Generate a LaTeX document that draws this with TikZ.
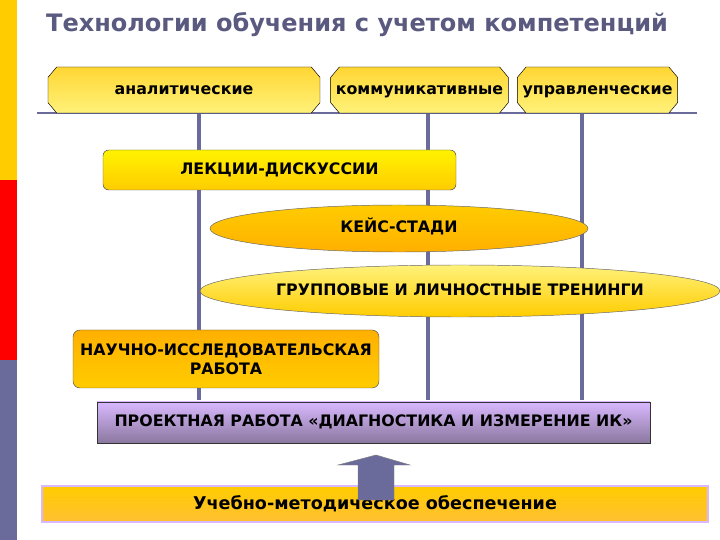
\documentclass[tikz,border=0pt]{standalone}
\usepackage{fontspec}
\setmainfont{DejaVu Sans}
\usetikzlibrary{shapes.geometric,shapes.misc,shadings}
\definecolor{slate}{HTML}{6B6B9B}
\definecolor{ttl}{HTML}{5A5A80}
\definecolor{gold}{HTML}{FFCC00}
\definecolor{lyel}{HTML}{FFF27A}
\definecolor{lav}{HTML}{D9B8FF}
\definecolor{lavd}{HTML}{8A789E}
\definecolor{orng}{HTML}{FFB000}
\begin{document}
\begin{tikzpicture}[x=0.03cm,y=-0.03cm,
  lbl/.style={font=\bfseries\fontsize{13.5}{16}\selectfont, text=black, text height=1.6ex, text depth=.3ex},
  hexbox/.style={chamfered rectangle, chamfered rectangle xsep=2cm, chamfered rectangle angle=40, draw=black, thin, top color=gold!80, bottom color=lyel, inner sep=0pt},
  vline/.style={slate, line width=3.5pt}]
\useasboundingbox (0,0) rectangle (720,540);
\fill[gold] (0,0) rectangle (17,180);
\fill[red] (0,180) rectangle (17,360);
\fill[slate] (0,360) rectangle (17,540);
\node[anchor=west, text=ttl, font=\bfseries\fontsize{20.5}{24}\selectfont] (title) at (42,25) {Технологии обучения с учетом компетенций};
\coordinate (hl) at (37,113); \coordinate (hr) at (697,113);
\draw[slate, line width=2pt] (hl) -- (hr);
\coordinate (v1a) at (199,113); \coordinate (v1b) at (199,400);
\coordinate (v2a) at (428,113); \coordinate (v2b) at (428,400);
\coordinate (v3a) at (582,113); \coordinate (v3b) at (582,400);
\draw[vline] (v1a) -- (v1b); \draw[vline] (v2a) -- (v2b); \draw[vline] (v3a) -- (v3b);
\node[hexbox, minimum width=272*0.03cm, minimum height=46*0.03cm, lbl] (a) at (184,90) {аналитические};
\node[hexbox, minimum width=175*0.03cm, minimum height=46*0.03cm, lbl] (k) at (419.5,90) {коммуникативные};
\node[hexbox, minimum width=159*0.03cm, minimum height=46*0.03cm, lbl] (u) at (597.5,90) {управленческие};
\node[draw=black!70, rounded corners=5pt, top color=yellow!90!orange, bottom color=gold, minimum width=353*0.03cm, minimum height=40*0.03cm, lbl] (lek) at (279.5,170) {ЛЕКЦИИ-ДИСКУССИИ};
\node[ellipse, draw=black!60, top color=gold, bottom color=orng, minimum width=378*0.03cm, minimum height=47*0.03cm, inner sep=0pt, lbl] (case) at (399,228.5) {КЕЙС-СТАДИ};
\node[ellipse, draw=black!60, top color=lyel, bottom color=gold, minimum width=380*0.03cm, minimum height=52*0.03cm, inner sep=0pt, lbl] (grp) at (460,291) {ГРУППОВЫЕ И ЛИЧНОСТНЫЕ ТРЕНИНГИ};
\node[draw=black!70, rounded corners=6pt, top color=orng, bottom color=gold, minimum width=306*0.03cm, minimum height=58*0.03cm, align=center, lbl, text height=, text depth=] (nir) at (226,359) {НАУЧНО-ИССЛЕДОВАТЕЛЬСКАЯ\\РАБОТА};
\node[draw=black!80, top color=lav, bottom color=lavd, minimum width=553*0.03cm, minimum height=41*0.03cm, lbl] (proj) at (373.5,422.5) {ПРОЕКТНАЯ РАБОТА «ДИАГНОСТИКА И ИЗМЕРЕНИЕ ИК»};
\node[draw=lav, line width=2pt, top color=gold, bottom color=orng!80, minimum width=666*0.03cm, minimum height=36*0.03cm, font=\bfseries\fontsize{15}{18}\selectfont] (ump) at (375,504) {Учебно-методическое обеспечение};
\fill[slate, draw=black!50] (358,500) -- (358,465) -- (338,465) -- (376,455) -- (410,465) -- (394,465) -- (394,500) -- cycle;
\end{tikzpicture}
\end{document}
